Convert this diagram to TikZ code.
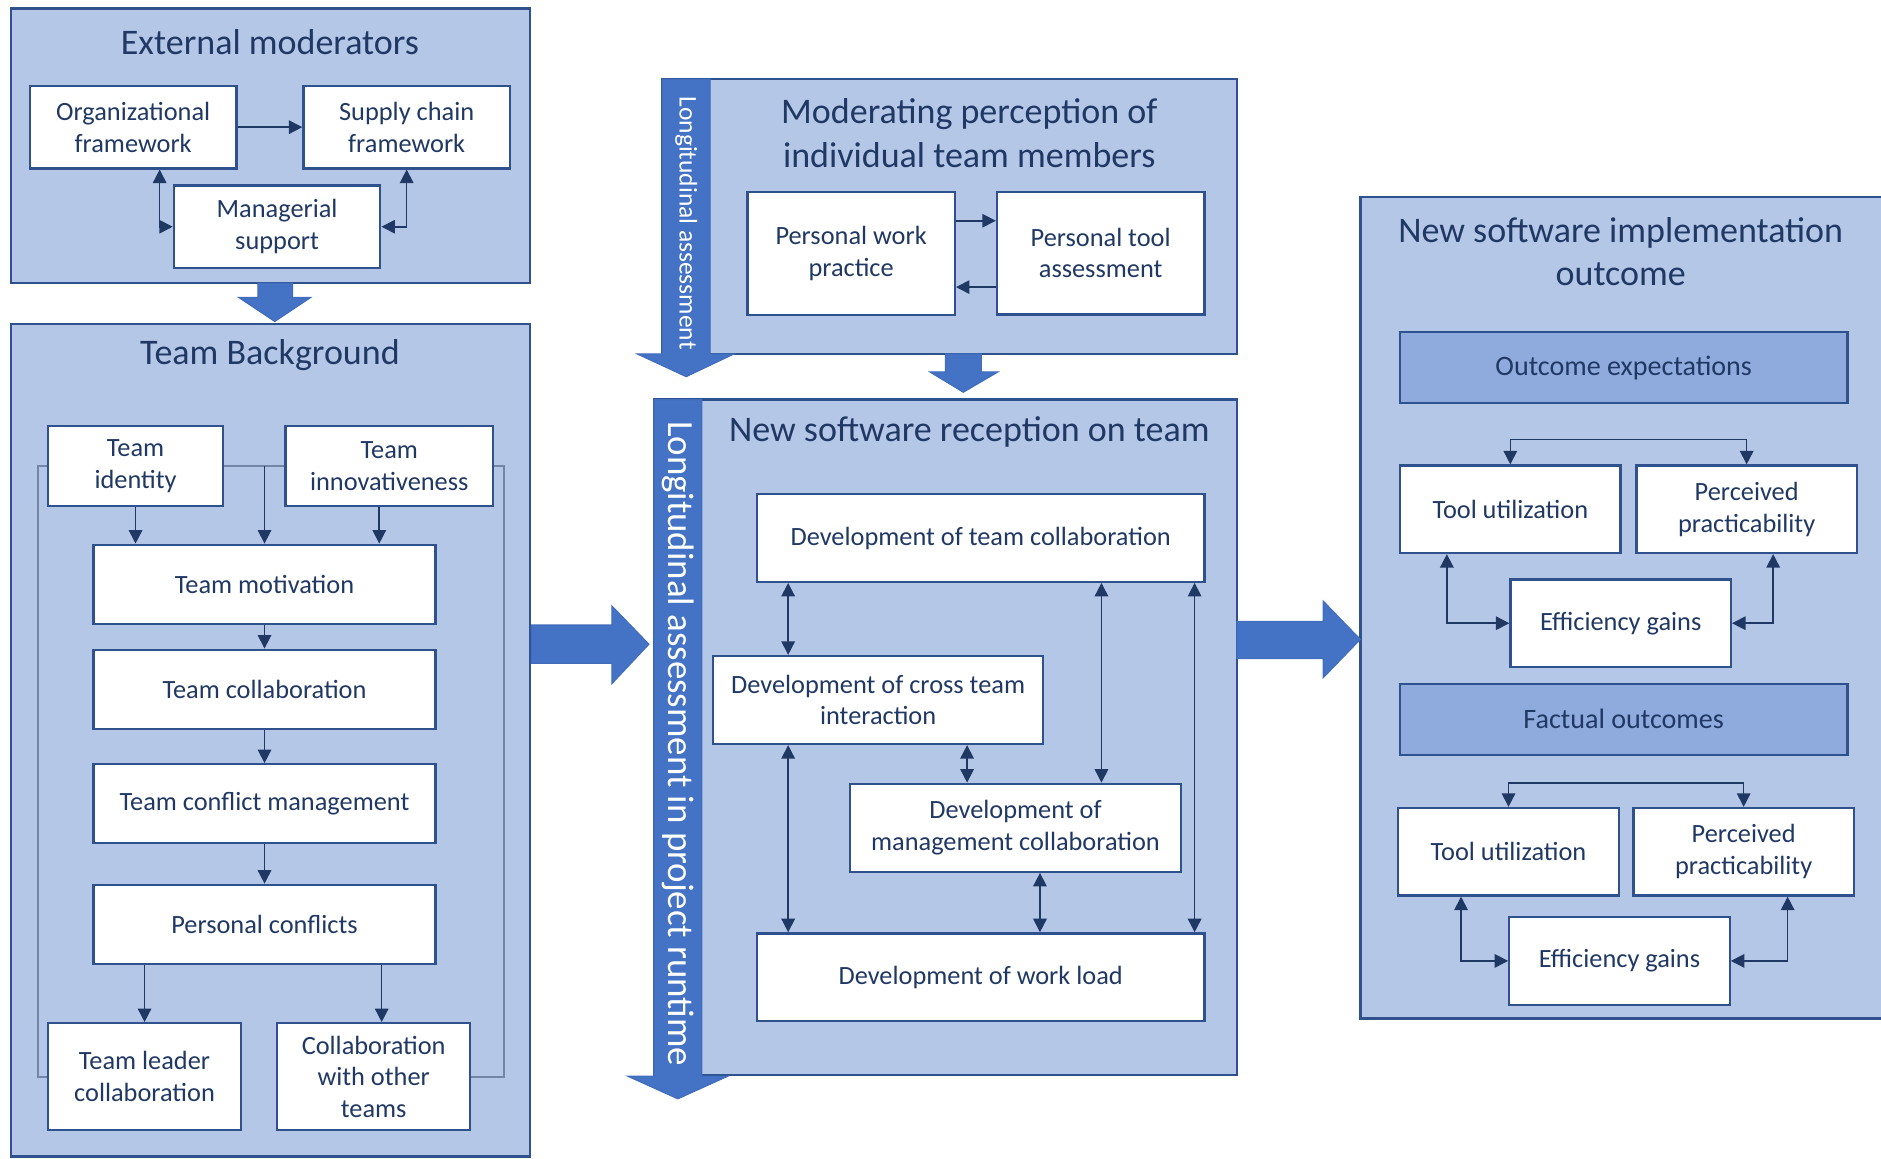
\documentclass[tikz,border=0pt]{standalone}
\usepackage{fontspec}
\setmainfont{Carlito}
\usetikzlibrary{arrows.meta}

\definecolor{panelfill}{HTML}{B4C7E7}
\definecolor{barfill}{HTML}{4472C4}
\definecolor{headfill}{HTML}{8FAADC}
\definecolor{boxline}{HTML}{2F528F}
\definecolor{ink}{HTML}{203864}
\definecolor{faint}{HTML}{7486A8}

\begin{document}
\begin{tikzpicture}[%
  x = 0.024cm, y = -0.024cm,
  panel/.style = {draw = boxline, fill = panelfill, line width = 1.3pt},
  box/.style = {draw = boxline, fill = white, line width = 1.3pt, text = ink, align = center,
    inner sep = 1pt, font = \fontsize{15}{18}\selectfont},
  extbox/.style = {box, minimum width = 4.13cm, minimum height = 1.65cm},
  widebox/.style = {box, minimum width = 6.84cm, minimum height = 1.58cm},
  lowbox/.style = {box, minimum width = 3.86cm, minimum height = 2.14cm},
  perbox/.style = {box, minimum width = 4.15cm, minimum height = 2.46cm},
  devbox/.style = {box, minimum width = 8.95cm, minimum height = 1.75cm},
  midbox/.style = {box, minimum width = 6.61cm, minimum height = 1.76cm},
  outbox/.style = {box, minimum width = 4.41cm, minimum height = 1.75cm},
  subhead/.style = {box, fill = headfill, font = \fontsize{16}{19}\selectfont,
    minimum width = 8.95cm, minimum height = 1.42cm},
  title/.style = {text = ink, align = center, font = \fontsize{20.5}{24.6}\selectfont},
  bartext/.style = {text = white, rotate = -90, inner sep = 0pt},
  bigarrow/.style = {fill = barfill, draw = barfill!85!boxline, line width = 0.6pt},
  link/.style = {draw = ink, line width = 0.9pt, -{Triangle[length = 0.27cm, width = 0.27cm]}},
  twoway/.style = {link, {Triangle[length = 0.27cm, width = 0.27cm]}-{Triangle[length = 0.27cm, width = 0.27cm]}},
  outline/.style = {draw = faint, line width = 1.1pt}]
  \useasboundingbox (0, 0) rectangle (1568, 966);

  % panels
  \draw[panel] (9, 7) rectangle (442, 236);
  \draw[panel] (9, 270) rectangle (442, 964);
  \draw[panel] (552, 66) rectangle (1031, 295);
  \draw[panel] (545, 333) rectangle (1031, 896);
  \draw[panel] (1134, 164) rectangle (1575, 849);

  % block arrows and time bars
  \draw[bigarrow] (215, 236) -- (244, 236) -- (244, 248) -- (259, 248) -- (229, 268)
    -- (199, 248) -- (215, 248) -- cycle;
  \draw[bigarrow] (788, 295) -- (818, 295) -- (818, 310) -- (832, 310) -- (803, 327)
    -- (775, 310) -- (788, 310) -- cycle;
  \draw[bigarrow] (443, 521) -- (510, 521) -- (510, 505) -- (541, 537) -- (510, 570)
    -- (510, 553) -- (443, 553) -- cycle;
  \draw[bigarrow] (1031, 518) -- (1103, 518) -- (1103, 501) -- (1134, 533) -- (1103, 565)
    -- (1103, 549) -- (1031, 549) -- cycle;
  \draw[bigarrow] (552, 66) -- (592, 66) -- (592, 295) -- (612, 295) -- (572, 314)
    -- (531, 295) -- (552, 295) -- cycle;
  \draw[bigarrow] (545, 333) -- (585, 333) -- (585, 897) -- (607, 897) -- (565, 916)
    -- (523, 897) -- (545, 897) -- cycle;
  \node[bartext, font = \fontsize{14.5}{17}\selectfont] (lonshort) at (572, 186) {Longitudinal assessment};
  \node[bartext, font = \fontsize{21}{25}\selectfont] (lonlong) at (565, 620) {Longitudinal assessment in project runtime};

  % titles
  \node[title] (exttitle) at (225, 35) {External moderators};
  \node[title] (tbtitle) at (225, 296) {Team Background};
  \node[title] (modtitle) at (808, 111) {Moderating perception of\\individual team members};
  \node[title] (rectitle) at (808, 360) {New software reception on team};
  \node[title] (outtitle) at (1351, 210) {New software implementation\\outcome};

  % external moderators
  \node[extbox] (org) at (111, 106) {Organizational\\framework};
  \node[extbox] (supply) at (339, 106) {Supply chain\\framework};
  \node[extbox] (manag) at (231, 189) {Managerial\\support};

  % team background
  \node[box, minimum width = 3.5cm, minimum height = 1.61cm] (ident) at (113, 388.5) {Team\\identity};
  \node[box, minimum width = 4.15cm, minimum height = 1.61cm] (innov) at (324.5, 388.5) {Team\\innovativeness};
  \node[widebox] (motiv) at (220.5, 487) {Team motivation};
  \node[widebox] (tcollab) at (220.5, 574.5) {Team collaboration};
  \node[widebox] (conflict) at (220.5, 670) {Team conflict management};
  \node[widebox] (personal) at (220.5, 770.5) {Personal conflicts};
  \node[lowbox] (leader) at (120.5, 897.5) {Team leader\\collaboration};
  \node[lowbox] (others) at (311.5, 897.5) {Collaboration\\with other\\teams};

  % moderating perception
  \node[perbox] (work) at (709.5, 211.5) {Personal work\\practice};
  \node[perbox] (tool) at (917.5, 211) {Personal tool\\assessment};

  % reception on team
  \node[devbox] (devteam) at (817.5, 448.5) {Development of team collaboration};
  \node[midbox] (devcross) at (732, 583.5) {Development of cross team\\interaction};
  \node[midbox] (devmgmt) at (846.5, 690) {Development of\\management collaboration};
  \node[devbox] (devload) at (817.5, 814.5) {Development of work load};

  % implementation outcome
  \node[subhead] (expect) at (1353.5, 306.5) {Outcome expectations};
  \node[outbox] (tooluse1) at (1259, 424.5) {Tool utilization};
  \node[outbox] (pract1) at (1456, 424.5) {Perceived\\practicability};
  \node[outbox] (eff1) at (1351, 519.5) {Efficiency gains};
  \node[subhead] (factual) at (1353.5, 599.5) {Factual outcomes};
  \node[outbox] (tooluse2) at (1257.5, 710) {Tool utilization};
  \node[outbox] (pract2) at (1453.5, 710) {Perceived\\practicability};
  \node[outbox] (eff2) at (1350, 801) {Efficiency gains};

  % connectors
  \draw[link] (org) -- (supply);
  \draw[twoway] ([xshift = 0.53cm]org.south) |- (manag.west);
  \draw[twoway] (supply.south) |- (manag.east);

  \draw[outline] (ident.west) -- ++(-0.17cm, 0cm) |- (leader.west);
  \draw[outline] (innov.east) -- ++(0.19cm, 0cm) |- (others.east);
  \draw[outline] (ident.east) -- (innov.west);
  \coordinate (join) at (motiv.north |- ident.east);
  \draw[link] (join) -- (motiv.north);
  \draw[link] (ident.south) -- (ident.south |- motiv.north);
  \draw[link] ([xshift = -0.2cm]innov.south) -- ([xshift = -0.2cm]innov.south |- motiv.north);
  \draw[link] (motiv) -- (tcollab);
  \draw[link] (tcollab) -- (conflict);
  \draw[link] (conflict) -- (personal);
  \draw[link] (leader.north |- personal.south) -- (leader.north);
  \draw[link] ([xshift = 0.16cm]others.north |- personal.south) -- ([xshift = 0.16cm]others.north);

  \draw[link] ([yshift = 0.66cm]work.east) -- ([yshift = 0.66cm]work.east -| tool.west);
  \draw[link] ([yshift = -0.68cm]tool.west) -- ([yshift = -0.68cm]tool.west -| work.east);

  \draw[twoway] ([xshift = -1.8cm]devcross.north) -- ([xshift = -1.8cm]devcross.north |- devteam.south);
  \draw[twoway] ([xshift = -1.8cm]devcross.south) -- ([xshift = -1.8cm]devcross.south |- devload.north);
  \draw[twoway] ([xshift = 1.78cm]devcross.south) -- ([xshift = 1.78cm]devcross.south |- devmgmt.north);
  \draw[twoway] ([xshift = 1.72cm]devmgmt.north) -- ([xshift = 1.72cm]devmgmt.north |- devteam.south);
  \draw[twoway] ([xshift = 0.49cm]devmgmt.south) -- ([xshift = 0.49cm]devmgmt.south |- devload.north);
  \draw[twoway] ([xshift = 4.28cm]devteam.south) -- ([xshift = 4.28cm]devteam.south |- devload.north);

  \draw[twoway] (tooluse1.north) -- ++(0cm, 0.5cm) -| (pract1.north);
  \draw[twoway] ([xshift = -1.27cm]tooluse1.south) |- (eff1.west);
  \draw[twoway] ([xshift = 0.53cm]pract1.south) |- (eff1.east);
  \draw[twoway] (tooluse2.north) -- ++(0cm, 0.48cm) -| (pract2.north);
  \draw[twoway] ([xshift = -0.95cm]tooluse2.south) |- (eff2.west);
  \draw[twoway] ([xshift = 0.88cm]pract2.south) |- (eff2.east);
\end{tikzpicture}
\end{document}
